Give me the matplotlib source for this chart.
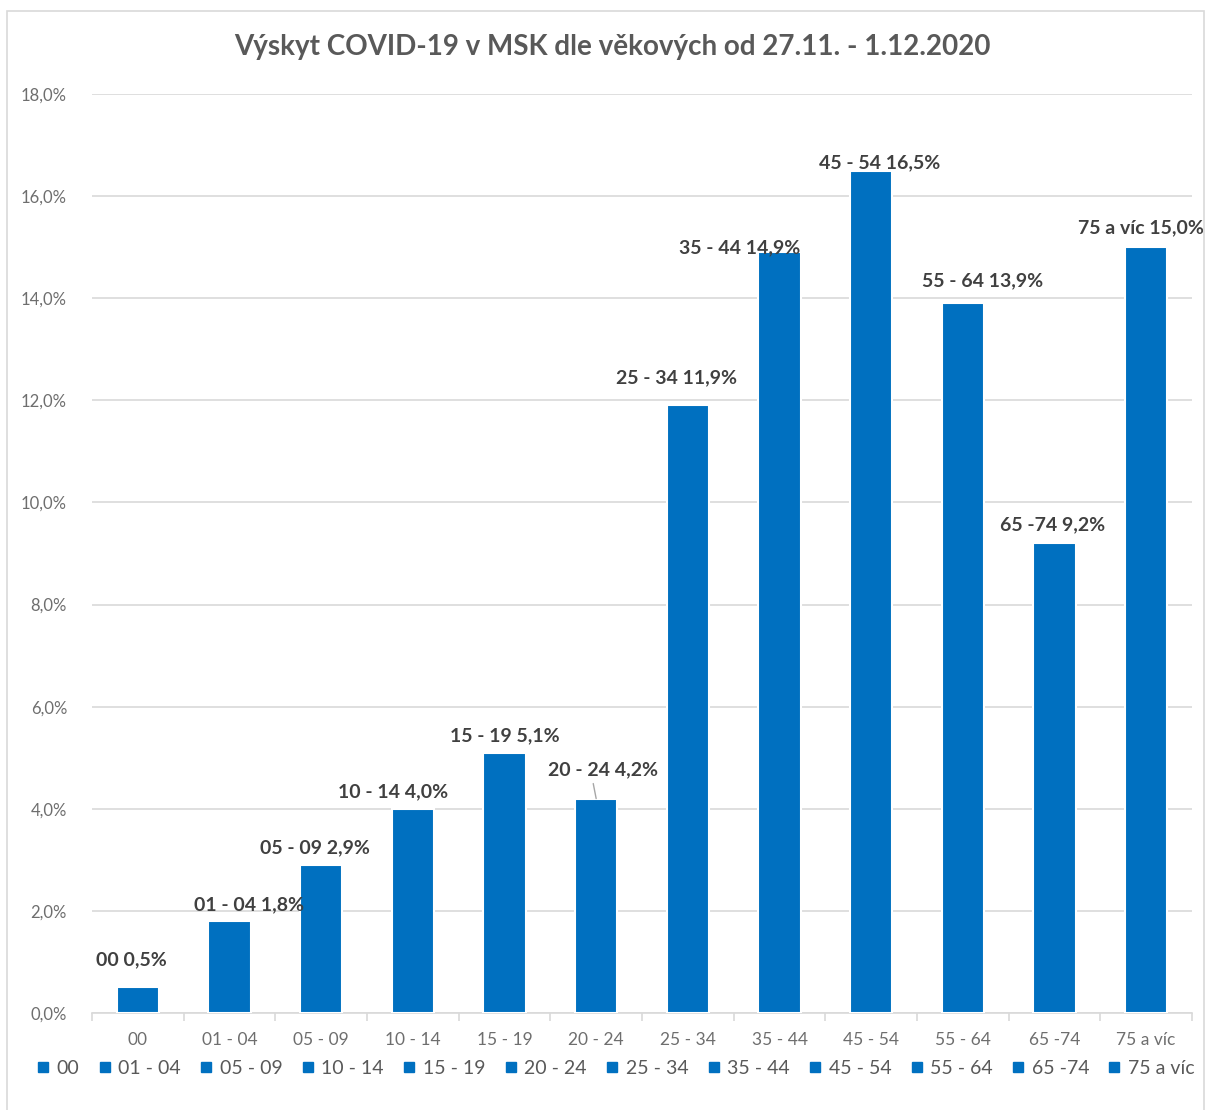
import matplotlib
matplotlib.use("Agg")
from matplotlib import pyplot as plt
from matplotlib.lines import Line2D
from matplotlib.patches import Rectangle

plt.rcParams['font.family'] = ['Lato', 'DejaVu Sans']

categories = ['00', '01 - 04', '05 - 09', '10 - 14', '15 - 19', '20 - 24',
              '25 - 34', '35 - 44', '45 - 54', '55 - 64', '65 -74', '75 a víc']
values = [0.5, 1.8, 2.9, 4.0, 5.1, 4.2, 11.9, 14.9, 16.5, 13.9, 9.2, 15.0]
title = 'Výskyt COVID-19 v MSK dle věkových od 27.11. - 1.12.2020'

# label offsets in pixels (dx, dy) from bar top
label_offsets = [(-6, 28), (20, 16), (-6, 17), (-20, 17), (0, 17), (7, 29),
                 (-11, 28), (-40, 5), (8, 8), (20, 23), (-2, 19), (-5, 19)]

BLUE = '#0070c0'
GRID = '#d9d9d9'
TXT = '#595959'

W, H = 1206, 1110
fig = plt.figure(figsize=(W / 100, H / 100), dpi=100)
fig.patches.append(Rectangle((7 / W, -0.01), (1204 - 7) / W, 1 - 11 / H + 0.01,
                             transform=fig.transFigure, fill=False,
                             edgecolor=GRID, linewidth=1.2))

ax = fig.add_axes([92 / W, 1 - 1013 / H, 1100 / W, (1013 - 94) / H])
x = list(range(len(categories)))
ax.bar(x, values, width=0.46, color=BLUE, edgecolor='white', linewidth=1.5, zorder=3)

ax.set_xlim(-0.5, len(categories) - 0.5)
ax.set_ylim(0, 18)
ax.set_yticks(range(0, 19, 2))
ax.set_yticklabels([f'{v:.1f}%'.replace('.', ',') for v in range(0, 19, 2)])
ax.yaxis.grid(True, color=GRID, linewidth=1.2, zorder=0)
ax.set_axisbelow(True)
for s in ['left', 'right', 'top']:
    ax.spines[s].set_visible(False)
ax.spines['bottom'].set_color(GRID)
ax.spines['bottom'].set_linewidth(1.2)
ax.tick_params(axis='y', length=0, pad=18, labelsize=12, labelcolor='#6e6e6e')
ax.set_xticks(x)
ax.set_xticklabels(categories)
ax.tick_params(axis='x', length=0, pad=14, labelsize=12.5, labelcolor='#6e6e6e')
ax.set_xticks([i - 0.5 for i in range(len(categories) + 1)], minor=True)
ax.tick_params(axis='x', which='minor', length=6, color=GRID, width=1.2)

for i, (cat, v) in enumerate(zip(categories, values)):
    dx, dy = label_offsets[i]
    lab = f'{cat} {v:.1f}%'.replace('.', ',')
    kw = {}
    if cat == '20 - 24':
        kw['arrowprops'] = dict(arrowstyle='-', color='#a6a6a6', lw=1,
                                relpos=(0.4, 0), shrinkA=2, shrinkB=0)
    ax.annotate(lab, (i, v), xytext=(dx, dy), textcoords='offset pixels',
                ha='center', va='center', fontsize=14, fontweight='bold',
                color='#404040', **kw)

fig.text(612 / W, 1 - 47 / H, title, ha='center', va='center',
         fontsize=20, fontweight='bold', color=TXT)

handles = [Line2D([], [], marker='s', linestyle='', color=BLUE, markersize=6.5)
           for _ in categories]
fig.legend(handles, categories, loc='center', bbox_to_anchor=(616 / W, 1 - 1068 / H),
           ncol=len(categories), frameon=False, fontsize=14, labelcolor=TXT,
           handlelength=0.6, handletextpad=0.4, columnspacing=1.0)

fig.savefig('out.png', dpi=100)
